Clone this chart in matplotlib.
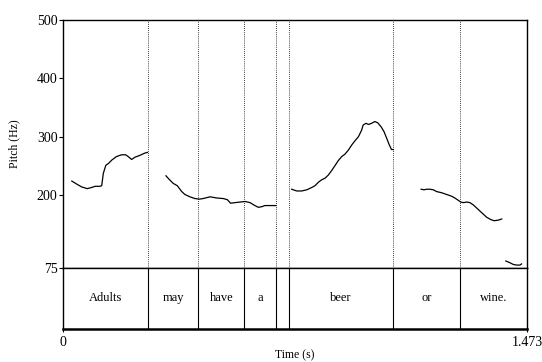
import matplotlib
matplotlib.use('Agg')
import matplotlib.pyplot as plt

plt.rcParams['font.family'] = ['Liberation Serif', 'DejaVu Serif']

# Pitch track, one list per voiced stretch (time s, pitch Hz)
seg1_t = [0.028, 0.043, 0.059, 0.077, 0.091, 0.102, 0.117, 0.123, 0.128, 0.136, 0.144, 0.155,
          0.170, 0.186, 0.199, 0.207, 0.218, 0.229, 0.244, 0.260, 0.268]
seg1_f = [224, 219, 214, 211, 213, 215, 215, 216, 237, 251, 254, 260,
          266, 269, 269, 266, 261, 265, 268, 272, 273]
seg2_t = [0.327, 0.337, 0.350, 0.363, 0.377, 0.387, 0.403, 0.419, 0.433, 0.445, 0.467, 0.488,
          0.509, 0.522, 0.532, 0.546, 0.562, 0.578, 0.594, 0.606, 0.620, 0.631, 0.641, 0.663, 0.676]
seg2_f = [233, 227, 220, 216, 206, 201, 197, 194, 193, 194, 197, 195,
          194, 192, 186, 187, 188, 189, 187, 183, 179, 180, 182, 182, 182]
seg3_t = [0.726, 0.742, 0.758, 0.774, 0.790, 0.800, 0.811, 0.821, 0.832, 0.842, 0.853, 0.863,
          0.874, 0.885, 0.895, 0.906, 0.917, 0.927, 0.938, 0.948, 0.953, 0.962, 0.970, 0.980,
          0.990, 0.999, 1.010, 1.019, 1.028, 1.036, 1.043, 1.049]
seg3_f = [210, 207, 207, 209, 213, 216, 222, 226, 229, 234, 242, 250,
          259, 266, 270, 277, 286, 293, 300, 311, 320, 323, 321, 323,
          326, 324, 317, 309, 297, 286, 278, 278]
seg4_t = [1.137, 1.146, 1.155, 1.165, 1.176, 1.186, 1.202, 1.218, 1.234, 1.244, 1.255, 1.263,
          1.271, 1.282, 1.292, 1.303, 1.315, 1.329, 1.345, 1.358, 1.369, 1.382, 1.393]
seg4_f = [210, 209, 210, 210, 209, 206, 204, 201, 198, 195, 191, 188,
          187, 188, 187, 183, 177, 170, 162, 158, 156, 157, 159]
seg5_t = [1.406, 1.419, 1.430, 1.440, 1.451, 1.456]
seg5_f = [87, 84, 81, 80, 80, 82]
segments = [(seg1_t, seg1_f), (seg2_t, seg2_f), (seg3_t, seg3_f), (seg4_t, seg4_f), (seg5_t, seg5_f)]

# TextGrid word tier
boundaries = [0.271, 0.429, 0.576, 0.676, 0.718, 1.048, 1.261]
words = ['Adults', 'may', 'have', 'a', '', 'beer', 'or', 'wine.']
t_end = 1.473
f_min, f_max = 75, 500
pitch_ticks = [75, 200, 300, 400, 500]

fig = plt.figure(figsize=(5.42, 3.62), dpi=100)
ax = fig.add_axes([0.1162, 0.2597, 0.856, 0.685])
tier = fig.add_axes([0.1162, 0.0912, 0.856, 0.1685])

for t, f in segments:
    ax.plot(t, f, color='black', lw=0.9)
for b in boundaries:
    ax.axvline(b, color='black', lw=0.6, ls=(0, (1, 1.5)))
    tier.axvline(b, color='black', lw=0.8)

ax.set_xlim(0, t_end)
ax.set_ylim(f_min, f_max)
ax.set_xticks([])
ax.set_yticks(pitch_ticks)
ax.tick_params(axis='y', length=3, width=0.8, labelsize=10, pad=1)
ax.set_ylabel('Pitch (Hz)', fontsize=8.5, labelpad=12)
for s in ax.spines.values():
    s.set_linewidth(1.0)

edges = [0] + boundaries + [t_end]
for i, w in enumerate(words):
    tier.text((edges[i] + edges[i + 1]) / 2, 0.5, w, ha='center', va='center', fontsize=9)
tier.set_xlim(0, t_end)
tier.set_ylim(0, 1)
tier.set_yticks([])
tier.set_xticks([0, t_end])
tier.set_xticklabels(['0', '1.473'])
tier.tick_params(axis='x', length=2, width=0.8, labelsize=10, pad=3)
tier.set_xlabel('Time (s)', fontsize=8.5, labelpad=0.5)
for s in tier.spines.values():
    s.set_linewidth(1.0)
tier.spines['bottom'].set_linewidth(1.8)

fig.savefig('out.png', dpi=100)
